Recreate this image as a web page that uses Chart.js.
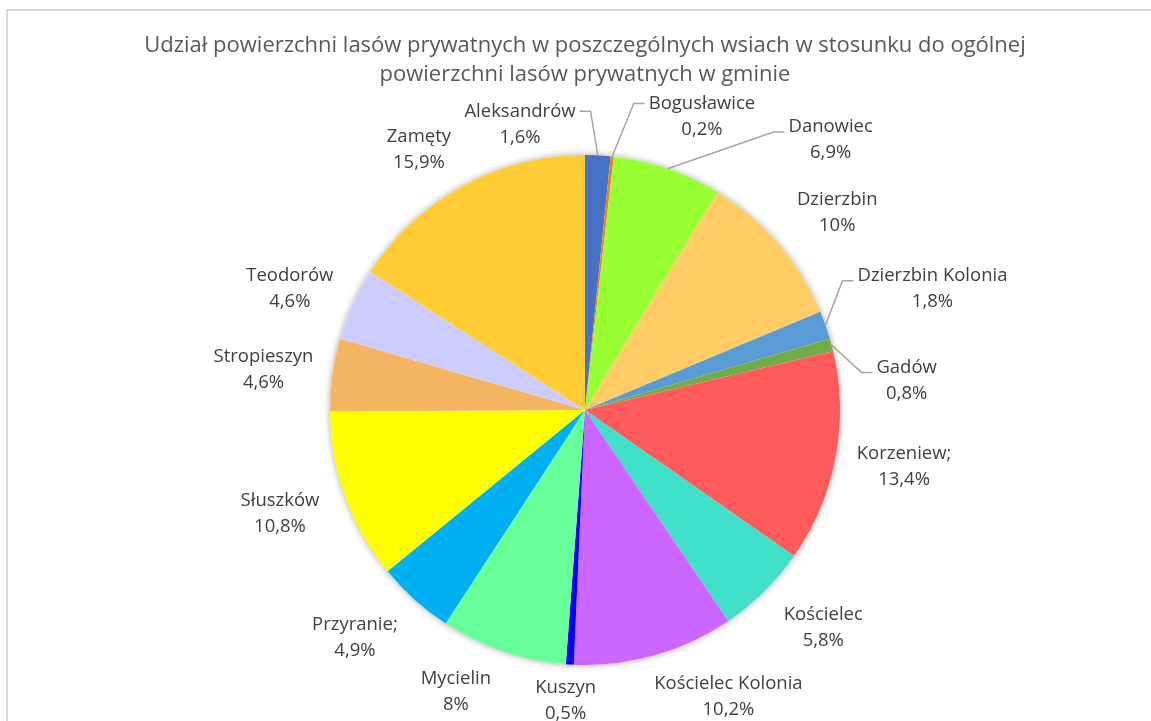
<!DOCTYPE html>
<html><head><meta charset="utf-8">
<script src="https://cdn.jsdelivr.net/npm/chart.js@4/dist/chart.umd.min.js"></script>
<style>html,body{margin:0;padding:0;background:#fff;}#wrap{width:1151px;height:721px;position:relative;}</style>
</head><body><div id="wrap"><canvas id="c" width="1151" height="721"></canvas></div>
<script>
const categories = ["Aleksandrów","Bogusławice","Danowiec","Dzierzbin","Dzierzbin Kolonia","Gadów","Korzeniew;","Kościelec","Kościelec Kolonia","Kuszyn","Mycielin","Przyranie;","Słuszków","Stropieszyn","Teodorów","Zamęty"];
const values = [1.6,0.2,6.9,10,1.8,0.8,13.4,5.8,10.2,0.5,8,4.9,10.8,4.6,4.6,15.9];
const valueLabels = ["1,6%","0,2%","6,9%","10%","1,8%","0,8%","13,4%","5,8%","10,2%","0,5%","8%","4,9%","10,8%","4,6%","4,6%","15,9%"];
const colors = ["#4472C4","#ED7D31","#99FF33","#FFCC66","#5B9BD5","#70AD47","#FF5B5B","#40E0C8","#CC66FF","#0000FF","#66FF99","#00B0F0","#FFFF00","#F4B462","#CCCCFF","#FFCC33"];
const titleLines = ["Udział powierzchni lasów prywatnych w poszczególnych wsiach w stosunku do ogólnej","powierzchni lasów prywatnych w gminie"];
// label placement: [angle nudge (deg), distance from centre (px)], leader line flag
const labelNudge = [[-15.7,293],[15.6,316],[23.4,365],[2.7,320],[0.2,368],[9.5,323],[-0.8,324],[-2.9,323],[-10.7,321],[0.4,291],[5.9,310],[3.3,324],[1.1,322],[-0.8,324],[-2.2,319],[-3.9,309]];
const leaders = [true,true,true,false,true,true,false,false,false,false,false,false,false,false,false,false];

const FONT = "'Open Sans', sans-serif";
// fit font sizes to the reference text widths
const mctx = document.createElement('canvas').getContext('2d');
function fitSize(text, target){ mctx.font = "100px " + FONT; return 100*target/mctx.measureText(text).width; }
const titleSize = Math.min(22, fitSize(titleLines[0], 888));
const labelSize = Math.min(20, fitSize("Dzierzbin Kolonia", 150));

const framePlugin = {
  id:'frame',
  beforeDraw(chart){
    const ctx = chart.ctx;
    ctx.save();
    ctx.fillStyle = '#fff';
    ctx.fillRect(0,0,chart.width,chart.height);
    ctx.strokeStyle = '#D9D9D9';
    ctx.lineWidth = 2;
    ctx.strokeRect(7,10,chart.width+20,chart.height+20);
    ctx.restore();
  },
  beforeDatasetsDraw(chart){
    const arc = chart.getDatasetMeta(0).data[0];
    if(!arc) return;
    const ctx = chart.ctx;
    ctx.save();
    ctx.shadowColor = 'rgba(0,0,0,0.35)';
    ctx.shadowBlur = 7;
    ctx.fillStyle = '#fff';
    ctx.beginPath();
    ctx.arc(arc.x, arc.y, arc.outerRadius, 0, Math.PI*2);
    ctx.fill();
    ctx.restore();
  }
};

const labelPlugin = {
  id:'pieLabels',
  afterDatasetsDraw(chart){
    const ctx = chart.ctx;
    const meta = chart.getDatasetMeta(0);
    ctx.save();
    ctx.font = labelSize.toFixed(2) + "px " + FONT;
    ctx.textAlign = 'center';
    ctx.textBaseline = 'middle';
    meta.data.forEach((arc,i)=>{
      const mid = (arc.startAngle + arc.endAngle)/2;
      const a = mid + labelNudge[i][0]*Math.PI/180;
      const d = labelNudge[i][1];
      const cx = arc.x + d*Math.cos(a);
      const cy = arc.y + d*Math.sin(a);
      const y1 = cy - 13, y2 = cy + 13;
      if (leaders[i]) {
        const ex = arc.x + arc.outerRadius*Math.cos(mid);
        const ey = arc.y + arc.outerRadius*Math.sin(mid);
        const w = ctx.measureText(categories[i]).width;
        const textOnLeft = cx < ex;
        const ly = y1 + (i<2 ? 0 : 5);
        let tx, elx;
        if (textOnLeft) { tx = cx + w/2 + 4; elx = tx + 11; }
        else { tx = cx - w/2 - 4; elx = tx - 11; }
        ctx.strokeStyle = '#A6A6A6';
        ctx.lineWidth = 1.5;
        ctx.beginPath();
        ctx.moveTo(ex, ey);
        ctx.lineTo(elx, ly);
        ctx.lineTo(tx, ly);
        ctx.stroke();
      }
      ctx.fillStyle = '#404040';
      ctx.fillText(categories[i], cx, y1);
      ctx.fillText(valueLabels[i], cx, y2);
    });
    ctx.restore();
  }
};

new Chart(document.getElementById('c'), {
  type:'pie',
  data:{ labels:categories, datasets:[{ data:values, backgroundColor:colors, borderWidth:0 }]},
  options:{
    responsive:false,
    animation:false,
    events:[],
    layout:{ padding:{ top:0, bottom:56, left:19, right:0 } },
    plugins:{
      legend:{display:false},
      tooltip:{enabled:false},
      title:{
        display:true,
        text:titleLines,
        color:'#595959',
        font:{ size:titleSize, family:FONT, weight:'normal', lineHeight:29/titleSize },
        padding:{ top:31, bottom:66 }
      }
    }
  },
  plugins:[framePlugin, labelPlugin]
});
</script></body></html>
